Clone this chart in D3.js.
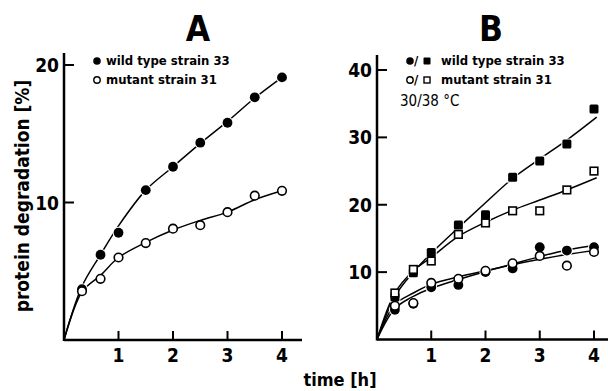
<!DOCTYPE html>
<html>
<head>
<meta charset="utf-8">
<script src="https://cdn.jsdelivr.net/npm/d3@7"></script>
<style>
  body { margin: 0; background: #fff; }
  svg { display: block; }
  text { font-family: 'DejaVu Sans Condensed', 'DejaVu Sans', sans-serif; font-stretch: condensed; fill: #000; }
</style>
</head>
<body>
<div id="chart"></div>
<script>
// sampling times (h)
var times = [0.33, 0.67, 1, 1.5, 2, 2.5, 3, 3.5, 4];

// panel A, measured points (%)
var aWild = [3.7, 6.2, 7.8, 10.9, 12.6, 14.35, 15.8, 17.65, 19.1];
var aMutant = [3.55, 4.45, 6.0, 7.05, 8.1, 8.35, 9.3, 10.5, 10.85];
// panel A, drawn-in curves
var aFitT = [0, 0.33, 0.67, 1, 1.5, 2, 2.5, 3, 3.5, 4];
var aWildFit = [0, 3.9, 6.2, 8.3, 10.9, 12.6, 14.3, 15.9, 17.6, 19.1];
var aMutantFit = [0, 3.5, 4.7, 6.0, 7.1, 8.0, 8.7, 9.3, 10.2, 10.85];

// panel B, squares = 38 C, circles = 30 C
var bWild38 = [6.3, 9.9, 12.9, 17.0, 18.5, 24.1, 26.5, 29.0, 34.2];
var bMutant38 = [6.9, 10.4, 11.65, 15.6, 17.3, 19.1, 19.1, 22.2, 25.0];
var bWild30 = [4.4, 5.3, 7.75, 8.1, 10.0, 10.55, 13.7, 13.2, 13.7];
var bMutant30 = [5.0, 5.4, 8.4, 9.0, 10.2, 11.3, 12.4, 10.95, 13.0];
var bFitT = [0, 0.33, 0.67, 1, 1.5, 2, 2.5, 3, 3.5, 4.05];
var bWild38Fit = [0, 6.4, 10.0, 12.8, 16.6, 20.3, 23.9, 26.8, 29.6, 33.0];
var bMutant38Fit = [0, 6.9, 10.2, 12.2, 15.3, 17.4, 19.2, 20.7, 22.2, 24.0];
var bWild30Fit = [0, 4.6, 6.4, 7.6, 8.9, 10.1, 11.2, 12.3, 13.3, 14.0];
var bMutant30Fit = [0, 5.2, 6.9, 8.2, 9.3, 10.2, 11.1, 11.9, 12.6, 13.3];

var xTicks = [1, 2, 3, 4];
var aYTicks = [10, 20];
var bYTicks = [10, 20, 30, 40];

var W = 608, H = 391;
var svg = d3.select('#chart').append('svg')
    .attr('width', W).attr('height', H);
svg.append('rect').attr('width', W).attr('height', H).attr('fill', '#fff');

function zip(t, v) {
  return t.map(function(d, i) { return [d, v[i]]; });
}

function panel(opt) {
  var x = d3.scaleLinear().domain([0, 4]).range([opt.x0, opt.x4]);
  var y = d3.scaleLinear().domain([0, opt.yMax]).range([opt.y0, opt.yTop]);
  var g = svg.append('g');

  // axes
  g.append('line').attr('x1', x(0)).attr('x2', opt.xEnd)
    .attr('y1', y(0)).attr('y2', y(0))
    .attr('stroke', '#000').attr('stroke-width', 2.5);
  g.append('line').attr('x1', x(0)).attr('x2', x(0))
    .attr('y1', y(0) + 1).attr('y2', opt.axisTop)
    .attr('stroke', '#000').attr('stroke-width', 2.5);

  g.selectAll('.xt').data(xTicks).enter().append('line')
    .attr('x1', x).attr('x2', x)
    .attr('y1', y(0)).attr('y2', y(0) - 9)
    .attr('stroke', '#000').attr('stroke-width', 2);
  g.selectAll('.xl').data(xTicks).enter().append('text')
    .attr('x', x).attr('y', y(0) + 22)
    .attr('text-anchor', 'middle')
    .attr('font-size', 19).attr('font-weight', 'bold')
    .text(function(d) { return d; });

  g.selectAll('.yt').data(opt.yTicks).enter().append('line')
    .attr('x1', x(0)).attr('x2', x(0) + 10)
    .attr('y1', y).attr('y2', y)
    .attr('stroke', '#000').attr('stroke-width', 2);
  g.selectAll('.yl').data(opt.yTicks).enter().append('text')
    .attr('x', x(0) - 5).attr('y', function(d) { return y(d) + 7; })
    .attr('text-anchor', 'end')
    .attr('font-size', 19).attr('font-weight', 'bold')
    .text(function(d) { return d; });

  // title
  g.append('text').attr('x', opt.titleX).attr('y', 41)
    .attr('text-anchor', 'middle')
    .attr('font-family', 'Liberation Sans, Arial, sans-serif')
    .attr('font-size', 35).attr('font-weight', 'bold')
    .text(opt.title);

  var line = d3.line()
    .x(function(d) { return x(d[0]); })
    .y(function(d) { return y(d[1]); })
    .curve(d3.curveCatmullRom.alpha(0.5));

  opt.fits.forEach(function(f) {
    g.append('path').datum(zip(opt.fitT, f))
      .attr('d', line)
      .attr('fill', 'none').attr('stroke', '#000').attr('stroke-width', 1.5);
  });

  opt.series.forEach(function(s) {
    var pts = zip(times, s.values);
    var m = g.selectAll(null).data(pts).enter();
    if (s.shape === 'circle') {
      if (s.filled) {
        m.append('circle').attr('cx', function(d) { return x(d[0]); })
          .attr('cy', function(d) { return y(d[1]); })
          .attr('r', 6).attr('fill', '#fff');
      }
      m.append('circle').attr('cx', function(d) { return x(d[0]); })
        .attr('cy', function(d) { return y(d[1]); })
        .attr('r', s.filled ? 4.9 : 4.3)
        .attr('fill', s.filled ? '#000' : '#fff')
        .attr('stroke', '#000').attr('stroke-width', s.filled ? 0 : 1.6);
    } else {
      var a = s.filled ? 9 : 7.6;
      if (s.filled) {
        m.append('rect').attr('x', function(d) { return x(d[0]) - 5.5; })
          .attr('y', function(d) { return y(d[1]) - 5.5; })
          .attr('width', 11).attr('height', 11).attr('fill', '#fff');
      }
      m.append('rect').attr('x', function(d) { return x(d[0]) - a / 2; })
        .attr('y', function(d) { return y(d[1]) - a / 2; })
        .attr('width', a).attr('height', a).attr('rx', s.filled ? 1.5 : 0)
        .attr('fill', s.filled ? '#000' : '#fff')
        .attr('stroke', '#000').attr('stroke-width', s.filled ? 0 : 1.6);
    }
  });
  return g;
}

panel({
  x0: 64, x4: 282, xEnd: 302, y0: 340, yTop: 65, axisTop: 53, yMax: 20,
  yTicks: aYTicks, title: 'A', titleX: 198,
  fitT: aFitT, fits: [aWildFit, aMutantFit],
  series: [
    { values: aWild, shape: 'circle', filled: true },
    { values: aMutant, shape: 'circle', filled: false }
  ]
});

panel({
  x0: 377, x4: 594, xEnd: 608, y0: 339.5, yTop: 70, axisTop: 55, yMax: 40,
  yTicks: bYTicks, title: 'B', titleX: 491,
  fitT: bFitT, fits: [bWild38Fit, bMutant38Fit, bWild30Fit, bMutant30Fit],
  series: [
    { values: bWild38, shape: 'square', filled: true },
    { values: bMutant38, shape: 'square', filled: false },
    { values: bWild30, shape: 'circle', filled: true },
    { values: bMutant30, shape: 'circle', filled: false }
  ]
});

// legends
function legCircle(cx, cy, filled) {
  svg.append('circle').attr('cx', cx).attr('cy', cy).attr('r', filled ? 3.8 : 3.2)
    .attr('fill', filled ? '#000' : '#fff')
    .attr('stroke', '#000').attr('stroke-width', filled ? 0 : 1.4);
}
function legSquare(cx, cy, filled) {
  var a = filled ? 7 : 6;
  svg.append('rect').attr('x', cx - a / 2).attr('y', cy - a / 2)
    .attr('width', a).attr('height', a).attr('rx', filled ? 1 : 0)
    .attr('fill', filled ? '#000' : '#fff')
    .attr('stroke', '#000').attr('stroke-width', filled ? 0 : 1.4);
}
function legText(x, y, t, w, fs) {
  svg.append('text').attr('x', x).attr('y', y)
    .attr('font-size', fs || 13).attr('font-weight', w || 'bold')
    .text(t);
}

legCircle(97, 61, true);
legText(106, 65, 'wild type strain 33');
legCircle(97, 80, false);
legText(106, 84, 'mutant strain 31');

legCircle(410, 61, true);
legText(414, 65, '/');
legSquare(427, 61, true);
legText(441, 65, 'wild type strain 33');
legCircle(410, 80, false);
legText(414, 84, '/');
legSquare(427, 80, false);
legText(441, 84, 'mutant strain 31');
legText(400, 106, '30/38 \u00b0C', 'normal', 15);

// axis titles
svg.append('text')
  .attr('transform', 'translate(29,196) rotate(-90)')
  .attr('text-anchor', 'middle')
  .attr('font-size', 19).attr('font-weight', 'bold')
  .text('protein degradation [%]');
svg.append('text').attr('x', 340).attr('y', 386)
  .attr('text-anchor', 'middle')
  .attr('font-size', 18).attr('font-weight', 'bold')
  .text('time [h]');
</script>
</body>
</html>
